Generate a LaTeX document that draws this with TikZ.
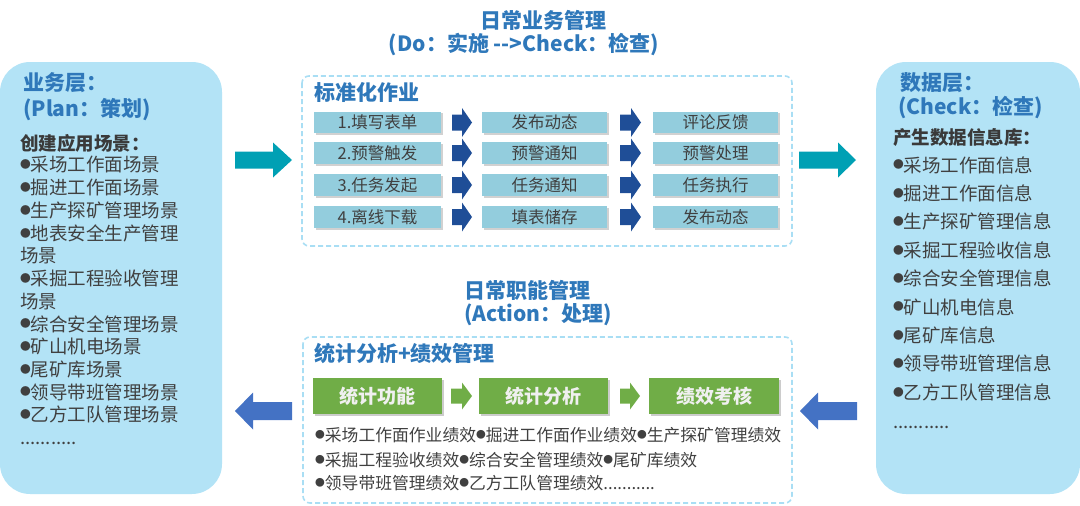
\documentclass[tikz,border=0pt]{standalone}
\usepackage{fontspec}
\setmainfont{Noto Sans CJK SC}
\usetikzlibrary{calc}
\definecolor{titleblue}{HTML}{2F78BA}
\definecolor{panelc}{HTML}{B3E3F6}
\definecolor{dashc}{HTML}{A9DEF4}
\definecolor{cellc}{HTML}{93CDDD}
\definecolor{darkarr}{HTML}{1F4E97}
\definecolor{tealarr}{HTML}{00A0B4}
\definecolor{bluearr}{HTML}{4472C4}
\definecolor{greenc}{HTML}{70AD47}
\definecolor{txt}{HTML}{404040}
\newcommand\bdot{\raisebox{0.17em}{\scalebox{0.58}{●}}}
\newcommand\blkR[7]{\fill[#7] (#1,#4-#5) -- (#2,#4-#5) -- (#2,#4-#6) -- (#3,#4) -- (#2,#4+#6) -- (#2,#4+#5) -- (#1,#4+#5) -- cycle;}
\newcommand\blkL[7]{\fill[#7] (#3,#4-#5) -- (#2,#4-#5) -- (#2,#4-#6) -- (#1,#4) -- (#2,#4+#6) -- (#2,#4+#5) -- (#3,#4+#5) -- cycle;}
\tikzset{
  ttl/.style={font=\bfseries\fontsize{21}{24}\selectfont, text=titleblue, inner sep=0pt},
  ttlw/.style={ttl, anchor=west},
  sub/.style={font=\bfseries\fontsize{18.5}{22}\selectfont, text=txt!90!black, inner sep=0pt, anchor=west},
  item/.style={font=\fontsize{18.5}{22}\selectfont, text=txt, inner sep=0pt, anchor=west},
  bline/.style={font=\fontsize{16.8}{20}\selectfont, text=txt, inner sep=0pt, anchor=west},
  cell/.style={fill=cellc, minimum width=127pt, minimum height=21.5pt, inner sep=0pt,
     font=\fontsize{16.5}{19}\selectfont, text=txt},
  gbox/.style={fill=greenc, minimum width=129pt, minimum height=36pt, inner sep=0pt,
     font=\bfseries\fontsize{19}{22}\selectfont, text=white!94!black},
  panel/.style={fill=panelc, rounded corners=30pt},
  dbox/.style={draw=dashc, line width=1.6pt, dash pattern=on 5pt off 3pt, rounded corners=7pt},
}
\begin{document}
\begin{tikzpicture}[x=1pt,y=-1pt]
\useasboundingbox (0,0) rectangle (1080,506);
% panels
\fill[panel] (0,62) rectangle (222,494);
\fill[panel] (876,62) rectangle (1080,494);
% dashed boxes
\draw[dbox] (302,76) rectangle (792,246);
\draw[dbox] (303,337) rectangle (792,503);
% big arrows
\blkR{235}{273}{292}{160}{8.5}{17.5}{tealarr}
\blkR{799}{838}{856}{160}{8.5}{17.5}{tealarr}
\blkL{235}{253}{292}{411}{9}{18.5}{bluearr}
\blkL{800}{818}{857}{411}{9}{18.5}{bluearr}
% titles
\node[ttl] (t1) at (543,20) {日常业务管理};
\node[ttl] (t2) at (524,45) {(Do：实施 -{}-{}>Check：检查)};
\node[ttl] (t3) at (527,290) {日常职能管理};
\node[ttl] (t4) at (538,315) {(Action：处理)};
\node[ttlw] (s1) at (314,92) {标准化作业};
\node[ttlw] (s2) at (314,353) {统计分析+绩效管理};
% cells
\foreach \r/\y/\a/\b/\c in {1/122.5/1.填写表单/发布动态/评论反馈,
                           2/153/2.预警触发/预警通知/预警处理,
                           3/185/3.任务发起/任务通知/任务执行,
                           4/217/4.离线下载/填表储存/发布动态}{
  \fill[black!18] (315.5,\y-9.5) rectangle (442.5,\y+12.5);
  \fill[black!18] (483.5,\y-9.5) rectangle (608.5,\y+12.5);
  \fill[black!18] (654.5,\y-9.5) rectangle (779.5,\y+12.5);
  \node[cell] (a\r) at (377.5,\y) {\a};
  \node[cell, minimum width=125pt] (b\r) at (544.5,\y) {\b};
  \node[cell, minimum width=125pt] (c\r) at (715.5,\y) {\c};
  \blkR{452}{462}{472}{\y}{8}{14.5}{darkarr}
  \blkR{620}{631}{641}{\y}{8}{14.5}{darkarr}
}
% green boxes
\fill[black!20] (315,380) rectangle (444,416);
\fill[black!20] (481,380) rectangle (610,416);
\fill[black!20] (651,380) rectangle (781,416);
\node[gbox] (g1) at (377.5,396) {统计功能};
\node[gbox] (g2) at (543.5,396) {统计分析};
\node[gbox, minimum width=130pt] (g3) at (714,396) {绩效考核};
\blkR{451}{462}{472}{396}{7.5}{13.5}{greenc}
\blkR{620}{630}{640}{396}{7.5}{13.5}{greenc}
% bottom lines
\node[bline] (l1) at (315,435) {\bdot 采场工作面作业绩效\bdot 掘进工作面作业绩效\bdot 生产探矿管理绩效};
\node[bline] (l2) at (315,460) {\bdot 采掘工程验收绩效\bdot 综合安全管理绩效\bdot 尾矿库绩效};
\node[bline] (l3) at (315,483) {\bdot 领导带班管理绩效\bdot 乙方工队管理绩效...........};
% left panel text
\node[ttlw] (lt1) at (23,83) {业务层：};
\node[ttlw] (lt2) at (23,110) {(Plan：策划)};
\node[sub] (ls) at (20,143) {创建应用场景：};
\foreach \t [count=\k from 0] in {\bdot 采场工作面场景,\bdot 掘进工作面场景,\bdot 生产探矿管理场景,
   \bdot 地表安全生产管理,场景,\bdot 采掘工程验收管理,场景,\bdot 综合安全管理场景,
   \bdot 矿山机电场景,\bdot 尾矿库场景,\bdot 领导带班管理场景,\bdot 乙方工队管理场景}{
  \node[item] (li\k) at (20,165+22.7*\k) {\t};
}
\node[item, anchor=base west] (ldots) at (20,444) {...........};
% right panel text
\node[ttlw] (rt1) at (900,83) {数据层：};
\node[ttlw] (rt2) at (898,108) {(Check：检查)};
\node[sub] (rs) at (893,138) {产生数据信息库：};
\foreach \t [count=\k from 0] in {采场工作面信息,掘进工作面信息,生产探矿管理信息,采掘工程验收信息,
   综合安全管理信息,矿山机电信息,尾矿库信息,领导带班管理信息,乙方工队管理信息}{
  \node[item] (ri\k) at (893,165+28.4*\k) {\bdot \t};
}
\node[item, anchor=base west] (rdots) at (893,428) {...........};
\end{tikzpicture}
\end{document}
